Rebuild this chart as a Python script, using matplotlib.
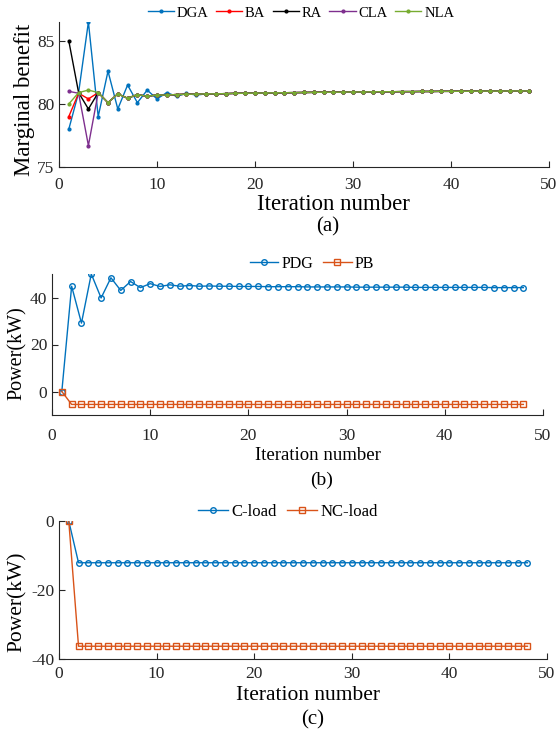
import matplotlib
matplotlib.use("Agg")
import matplotlib.pyplot as plt

############################################################
# Data
############################################################

iterations = list(range(1, 49))

# panel (a): marginal benefit, first 15 iterations differ per method
dga_head = [78.0, 80.9, 86.5, 79.0, 82.6, 79.6, 81.5, 80.1, 81.1, 80.4,
            80.9, 80.6, 80.85, 80.7, 80.8]
ba_head = [79.0, 80.85, 80.4, 80.9, 80.1, 80.8, 80.45, 80.75, 80.6, 80.72,
           80.7, 80.75, 80.77, 80.78, 80.8]
ra_head = [85.0, 80.9, 79.6, 80.9, 80.1, 80.8, 80.45, 80.75, 80.6, 80.72,
           80.7, 80.75, 80.77, 80.78, 80.8]
cla_head = [81.0, 80.85, 76.7, 80.9, 80.1, 80.8, 80.45, 80.75, 80.6, 80.72,
            80.7, 80.75, 80.77, 80.78, 80.8]
nla_head = [80.0, 80.9, 81.1, 80.9, 80.1, 80.8, 80.45, 80.75, 80.6, 80.72,
            80.7, 80.75, 80.77, 80.78, 80.8]

# iterations 16..48, shared by all methods
benefit_tail = [80.80, 80.82, 80.84, 80.85, 80.86, 80.87, 80.88, 80.89,
                80.90, 80.91, 80.92, 80.93, 80.93, 80.94, 80.95, 80.95,
                80.96, 80.97, 80.97, 80.98, 80.98, 80.99, 80.99, 81.00,
                81.00, 81.01, 81.01, 81.02, 81.02, 81.02, 81.03, 81.03,
                81.03]

benefit_labels = ["DGA", "BA", "RA", "CLA", "NLA"]
benefit_colors = ["#0072BD", "#FF0000", "#000000", "#7E2F8E", "#77AC30"]

# panel (b): power of DG and battery
pdg = [0.0, 44.8, 29.1, 50.0, 39.8, 48.4, 43.0, 46.8, 44.2, 45.9,
       44.7, 45.4, 44.8, 45.1, 44.8, 44.9, 44.8, 44.8, 44.7, 44.7,
       44.7, 44.6, 44.6, 44.6, 44.6, 44.5, 44.5, 44.5, 44.5, 44.5,
       44.4, 44.4, 44.4, 44.4, 44.4, 44.4, 44.3, 44.3, 44.3, 44.3,
       44.3, 44.3, 44.3, 44.3, 44.2, 44.2, 44.2, 44.2]
pb = [0.0] + [-5.5] * 47

# panel (c): loads
c_load = [0.0] + [-12.1] * 47
nc_load = [0.0] + [-36.3] * 47

BLUE = "#0072BD"
ORANGE = "#D95319"
TEXT = "#262626"

W, H = 557, 733


def fx(px):
    return px / W


def fy(py):
    return 1 - py / H


def style_axes(ax, tick_size, xpad):
    for side in ["top", "right"]:
        ax.spines[side].set_visible(False)
    for side in ["left", "bottom"]:
        ax.spines[side].set_color(TEXT)
        ax.spines[side].set_linewidth(0.8)
    ax.tick_params(direction="in", length=4, width=0.8,
                   colors=TEXT, labelsize=tick_size)
    ax.tick_params(axis="x", pad=xpad)
    ax.set_xlim(0, 50)
    ax.set_xticks([0, 10, 20, 30, 40, 50])


def main():

    plt.rcParams["font.family"] = ["Liberation Serif", "DejaVu Serif"]
    plt.rcParams["axes.unicode_minus"] = False

    fig = plt.figure(figsize=(W / 100, H / 100), dpi=100)

    ############################################################
    # (a) Marginal benefit
    ############################################################

    ax_a = fig.add_axes([fx(59), fy(167), fx(549) - fx(59), fy(22) - fy(167)])

    heads = [dga_head, ba_head, ra_head, cla_head, nla_head]
    for head, label, color in zip(heads, benefit_labels, benefit_colors):
        ax_a.plot(iterations, head + benefit_tail, color=color,
                  marker=".", markersize=4, linewidth=1, label=label)

    style_axes(ax_a, 12.5, 7)
    ax_a.set_ylim(75, 86.5)
    ax_a.set_yticks([75, 80, 85])

    ax_a.legend(loc="center", bbox_to_anchor=(fx(301), fy(13)),
                bbox_transform=fig.transFigure, ncol=5, frameon=False,
                fontsize=10.5, handlelength=1.8, handletextpad=0.2,
                columnspacing=0.5, borderpad=0)

    fig.text(fx(25), fy(100), "Marginal benefit", rotation=90,
             ha="center", va="center", fontsize=16.5, color="black")
    fig.text(fx(333), fy(204), "Iteration number",
             ha="center", va="center", fontsize=16.5, color="black")
    fig.text(fx(328), fy(227), "(a)",
             ha="center", va="center", fontsize=15, color="black")

    ############################################################
    # (b) Power of DG and battery
    ############################################################

    ax_b = fig.add_axes([fx(52), fy(415), fx(543) - fx(52), fy(274) - fy(415)])

    ax_b.plot(iterations, pdg, color=BLUE, marker="o", markersize=4,
              markerfacecolor="none", markeredgewidth=1, linewidth=1,
              label="PDG")
    ax_b.plot(iterations, pb, color=ORANGE, marker="s", markersize=4,
              markerfacecolor="none", markeredgewidth=1, linewidth=1,
              label="PB")

    style_axes(ax_b, 12.5, 9)
    ax_b.set_ylim(-10, 50)
    ax_b.set_yticks([0, 20, 40])

    ax_b.legend(loc="center", bbox_to_anchor=(fx(312), fy(264)),
                bbox_transform=fig.transFigure, ncol=2, frameon=False,
                fontsize=11.5, handlelength=1.8, handletextpad=0.2,
                columnspacing=0.6, borderpad=0)

    fig.text(fx(17), fy(353), "Power(kW)", rotation=90,
             ha="center", va="center", fontsize=14.5, color="black")
    fig.text(fx(318), fy(456), "Iteration number",
             ha="center", va="center", fontsize=13.5, color="black")
    fig.text(fx(322), fy(480), "(b)",
             ha="center", va="center", fontsize=14, color="black")

    ############################################################
    # (c) Loads
    ############################################################

    ax_c = fig.add_axes([fx(59), fy(659), fx(547) - fx(59), fy(521) - fy(659)])

    ax_c.plot(iterations, c_load, color=BLUE, marker="o", markersize=4,
              markerfacecolor="none", markeredgewidth=1, linewidth=1,
              label="C-load")
    ax_c.plot(iterations, nc_load, color=ORANGE, marker="s", markersize=4,
              markerfacecolor="none", markeredgewidth=1, linewidth=1,
              label="NC-load")

    style_axes(ax_c, 12.5, 5)
    ax_c.set_ylim(-40, 0)
    ax_c.set_yticks([-40, -20, 0])

    ax_c.legend(loc="center", bbox_to_anchor=(fx(288), fy(512)),
                bbox_transform=fig.transFigure, ncol=2, frameon=False,
                fontsize=12, handlelength=1.8, handletextpad=0.2,
                columnspacing=0.6, borderpad=0)

    fig.text(fx(17), fy(602), "Power(kW)", rotation=90,
             ha="center", va="center", fontsize=15.5, color="black")
    fig.text(fx(308), fy(695), "Iteration number",
             ha="center", va="center", fontsize=15.5, color="black")
    fig.text(fx(313), fy(720), "(c)",
             ha="center", va="center", fontsize=15, color="black")

    fig.savefig("out.png", dpi=100)
    plt.close(fig)


if __name__ == "__main__":
    main()
